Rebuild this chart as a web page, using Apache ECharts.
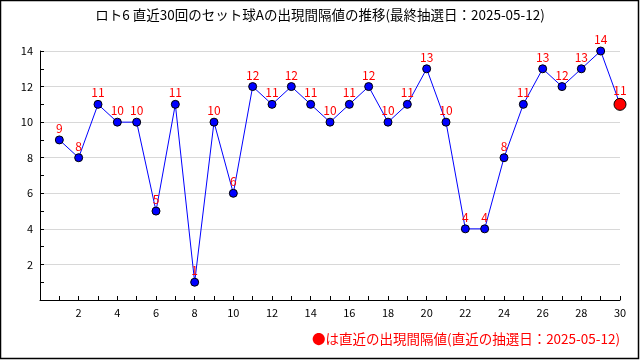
<!DOCTYPE html>
<html><head><meta charset="utf-8">
<script src="https://cdn.jsdelivr.net/npm/echarts@6/dist/echarts.min.js"></script>
<style>html,body{margin:0;padding:0;background:#fff}#c{width:640px;height:360px}</style>
</head><body><div id="c"></div>
<script>
const titleText = 'ロト6 直近30回のセット球Aの出現間隔値の推移(最終抽選日：2025-05-12)';
const noteText = '●は直近の出現間隔値(直近の抽選日：2025-05-12)';
const draws = [1,2,3,4,5,6,7,8,9,10,11,12,13,14,15,16,17,18,19,20,21,22,23,24,25,26,27,28,29,30];
const intervals = [9,8,11,10,10,5,11,1,10,6,12,11,12,11,10,11,12,10,11,13,10,4,4,8,11,13,12,13,14,11];

const chart = echarts.init(document.getElementById('c'), null, {renderer:'canvas'});
const font = '"Noto Sans CJK JP","DejaVu Sans",sans-serif';
const data = draws.map((d,i)=>{
  const item = {value:[d, intervals[i]]};
  if (i === draws.length-1) {
    item.symbolSize = 12;
    item.itemStyle = {color:'#ff0000', borderColor:'#000', borderWidth:1};
  }
  return item;
});
chart.setOption({
  animation:false,
  backgroundColor:'#fff',
  title:{text:titleText, left:'center', top:3, textStyle:{fontFamily:font, fontSize:13.5, fontWeight:'normal', color:'#000'}},
  graphic:[
    {type:'rect', shape:{x:0.5,y:0.5,width:638,height:358}, style:{fill:'none', stroke:'#000', lineWidth:1.5}, z:100},
    {type:'text', right:20, top:332, style:{text:noteText, fill:'#ff0000', font:'13.5px '+font}}
  ],
  grid:{left:40, right:20, top:51, bottom:60},
  xAxis:{type:'value', min:0, max:30, interval:2,
    axisLine:{lineStyle:{color:'#000'}},
    axisTick:{inside:true, length:4, lineStyle:{color:'#000'}},
    minorTick:{show:true, splitNumber:2, length:4, lineStyle:{color:'#000'}},
    splitLine:{show:false},
    axisLabel:{color:'#000', fontSize:11, fontFamily:font, margin:7, formatter:v=>v===0?'':String(v)}
  },
  yAxis:{type:'value', min:0, max:14, interval:2,
    axisLine:{show:true, lineStyle:{color:'#000'}},
    axisTick:{show:true, inside:true, length:4, lineStyle:{color:'#000'}},
    minorTick:{show:true, splitNumber:2, length:4, lineStyle:{color:'#000'}},
    splitLine:{show:true, lineStyle:{color:'#d8d8d8', width:1}},
    axisLabel:{color:'#000', fontSize:11, fontFamily:font, margin:7, formatter:v=>v===0?'':String(v)}
  },
  series:[{
    type:'line', data:data,
    symbol:'circle', symbolSize:8,
    lineStyle:{color:'#0000ff', width:1},
    itemStyle:{color:'#0000ff', borderColor:'#000', borderWidth:1},
    label:{show:true, position:'top', distance:1, color:'#ff0000', fontSize:12, fontFamily:font,
      formatter:p=>String(p.value[1])},
    emphasis:{disabled:true}
  }]
});
</script></body></html>
